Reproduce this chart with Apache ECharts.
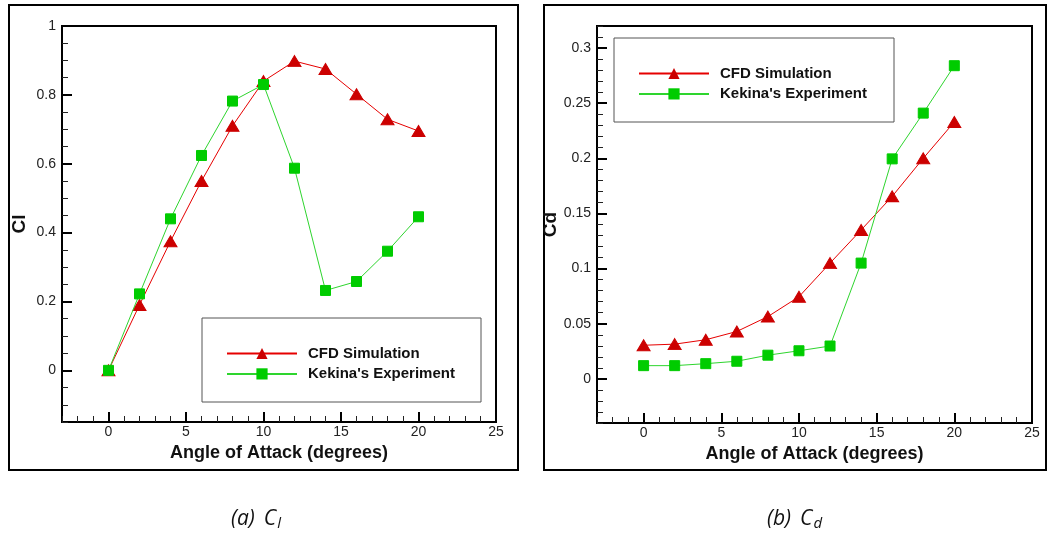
<!DOCTYPE html>
<html>
<head>
<meta charset="utf-8">
<script src="https://cdn.jsdelivr.net/npm/echarts@6/dist/echarts.min.js"></script>
<style>
html,body{margin:0;padding:0;background:#fff;}
#c{width:1048px;height:540px;}
</style>
</head>
<body>
<div id="c"></div>
<script>
const angles = [0, 2, 4, 6, 8, 10, 12, 14, 16, 18, 20];
const clCfd = [0, 0.19, 0.375, 0.55, 0.71, 0.84, 0.898, 0.875, 0.802, 0.729, 0.695];
const clExp = [0, 0.222, 0.44, 0.624, 0.782, 0.83, 0.587, 0.232, 0.258, 0.346, 0.446];
const cdCfd = [0.0305, 0.0315, 0.0355, 0.043, 0.0565, 0.0745, 0.105, 0.135, 0.1655, 0.2, 0.233];
const cdExp = [0.012, 0.012, 0.0138, 0.016, 0.0215, 0.0255, 0.0298, 0.105, 0.1995, 0.241, 0.284];
const xMajorTicks = [0, 5, 10, 15, 20, 25];
const clMajorTicks = [0, 0.2, 0.4, 0.6, 0.8, 1];
const cdMajorTicks = [0, 0.05, 0.1, 0.15, 0.2, 0.25, 0.3];
const seriesNames = ['CFD Simulation', "Kekina's Experiment"];
const xTitle = 'Angle of Attack (degrees)';

const FONT = '"Liberation Sans", Arial, sans-serif';
const RED_LINE = '#e60000', RED_MK = '#cc0000';
const GRN_LINE = '#2ed52e', GRN_MK = '#00cc00';

function isMult(v, step) { const r = v / step; return Math.abs(r - Math.round(r)) < 1e-6; }
function fmt(v) { return String(parseFloat(v.toFixed(3))); }

function xAxes(gi) {
  return [
    { type: 'value', gridIndex: gi, min: -3, max: 25, interval: 1,
      name: xTitle, nameLocation: 'middle', nameGap: 19,
      nameTextStyle: { fontFamily: FONT, fontWeight: 'bold', fontSize: 18, color: '#111' },
      axisLine: { show: true, onZero: false, lineStyle: { color: '#000', width: 2 } },
      axisTick: { show: true, inside: true, length: 6, lineStyle: { color: '#222', width: 1 } },
      axisLabel: { margin: 3, fontFamily: FONT, fontSize: 14, color: '#222',
        formatter: v => (v >= 0 && isMult(v, 5)) ? fmt(v) : '' },
      splitLine: { show: false } },
    { type: 'value', gridIndex: gi, min: -3, max: 25, position: 'bottom',
      axisLine: { show: false, onZero: false },
      axisTick: { show: true, inside: true, length: 10, customValues: xMajorTicks, lineStyle: { color: '#000', width: 2 } },
      axisLabel: { show: false }, splitLine: { show: false } }
  ];
}
function yAxes(gi, min, max, minor, majorStep, majors, name) {
  return [
    { type: 'value', gridIndex: gi, min: min, max: max, interval: minor,
      name: name, nameLocation: 'middle', nameGap: 33, nameRotate: 90,
      nameTextStyle: { fontFamily: FONT, fontWeight: 'bold', fontSize: 19, color: '#111' },
      axisLine: { show: true, onZero: false, lineStyle: { color: '#000', width: 2 } },
      axisTick: { show: true, inside: true, length: 6, lineStyle: { color: '#222', width: 1 } },
      axisLabel: { margin: 6, fontFamily: FONT, fontSize: 14, color: '#222',
        formatter: v => (v >= -1e-9 && isMult(v, majorStep)) ? fmt(v) : '' },
      splitLine: { show: false } },
    { type: 'value', gridIndex: gi, min: min, max: max, position: 'left',
      axisLine: { show: false, onZero: false },
      axisTick: { show: true, inside: true, length: 10, customValues: majors, lineStyle: { color: '#000', width: 2 } },
      axisLabel: { show: false }, splitLine: { show: false } }
  ];
}
function pairs(xs, ys) { return xs.map((x, i) => [x, ys[i]]); }
function cfdSeries(xi, yi, ys) {
  return { name: seriesNames[0], type: 'line', xAxisIndex: xi, yAxisIndex: yi,
    data: pairs(angles, ys), symbol: 'triangle', symbolSize: [13, 11],
    lineStyle: { color: RED_LINE, width: 1 }, itemStyle: { color: RED_MK, borderColor: RED_MK },
    z: 3, animation: false };
}
function expSeries(xi, yi, ys) {
  return { name: seriesNames[1], type: 'line', xAxisIndex: xi, yAxisIndex: yi,
    data: pairs(angles, ys), symbol: 'rect', symbolSize: 10,
    lineStyle: { color: GRN_LINE, width: 1 }, itemStyle: { color: GRN_MK, borderColor: GRN_MK },
    z: 4, animation: false };
}
function legend(left, top) {
  return { orient: 'vertical', left: left, top: top, itemWidth: 70, itemHeight: 14, itemGap: 5.4,
    padding: 0, selectedMode: false, data: seriesNames,
    textStyle: { fontFamily: FONT, fontWeight: 'bold', fontSize: 15, color: '#111', padding: [0, 0, 0, 6] } };
}
function caption(left, letter, sub) {
  return { type: 'text', left: left, top: 509,
    style: { text: '{p|(' + letter + ')}{c|C}{s|' + sub + '}', rich: {
      p: { fontFamily: '"Open Sans"', fontStyle: 'italic', fontSize: 21, fill: '#111' },
      c: { fontFamily: '"Open Sans"', fontStyle: 'italic', fontSize: 21, fill: '#111', padding: [0, 0, 0, 9] },
      s: { fontFamily: '"Open Sans"', fontStyle: 'italic', fontSize: 15, fill: '#111', padding: [9, 0, 0, 1] } } } };
}

const chart = echarts.init(document.getElementById('c'), null, { renderer: 'canvas' });
chart.setOption({
  animation: false,
  backgroundColor: '#fff',
  grid: [
    { left: 62, top: 26, width: 434, height: 396, show: true, borderColor: '#000', borderWidth: 2, containLabel: false },
    { left: 597, top: 26, width: 435, height: 397, show: true, borderColor: '#000', borderWidth: 2, containLabel: false }
  ],
  xAxis: [...xAxes(0), ...xAxes(1)],
  yAxis: [...yAxes(0, -0.15, 1, 0.05, 0.2, clMajorTicks, 'Cl'),
          ...yAxes(1, -0.04, 0.32, 0.01, 0.05, cdMajorTicks, 'Cd')],
  legend: [legend(226, 346), legend(638, 66)],
  series: [
    cfdSeries(0, 0, clCfd), expSeries(0, 0, clExp),
    cfdSeries(2, 2, cdCfd), expSeries(2, 2, cdExp)
  ],
  graphic: [
    { type: 'rect', shape: { x: 9, y: 5, width: 509, height: 465 }, style: { fill: 'none', stroke: '#000', lineWidth: 2 }, silent: true },
    { type: 'rect', shape: { x: 544, y: 5, width: 502, height: 465 }, style: { fill: 'none', stroke: '#000', lineWidth: 2 }, silent: true },
    { type: 'rect', shape: { x: 202, y: 318, width: 279, height: 84 }, style: { fill: '#fff', stroke: '#555', lineWidth: 1 }, z: 1, silent: true },
    { type: 'rect', shape: { x: 614, y: 38, width: 280, height: 84 }, style: { fill: '#fff', stroke: '#555', lineWidth: 1 }, z: 1, silent: true },
    caption(231, 'a', 'l'),
    caption(767, 'b', 'd')
  ]
});
</script>
</body>
</html>
